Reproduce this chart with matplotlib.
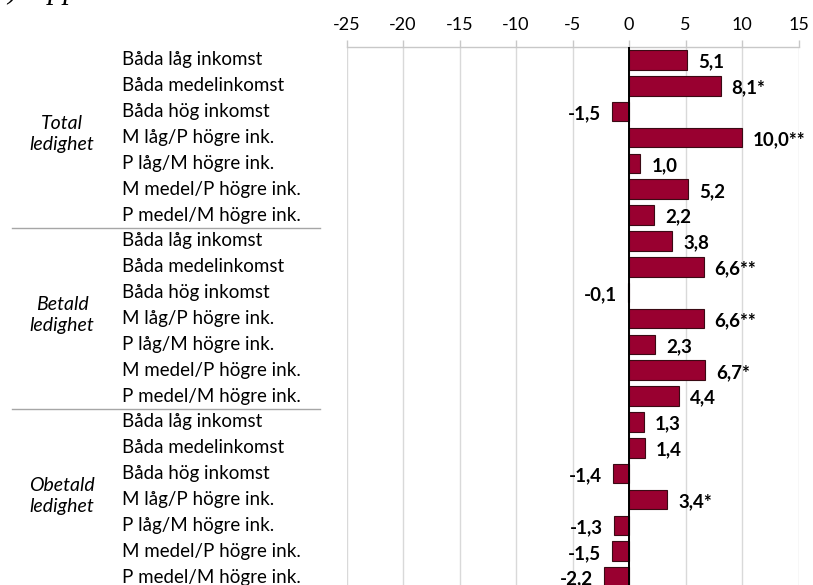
import matplotlib
matplotlib.use("Agg")
import matplotlib.pyplot as plt
from matplotlib.transforms import blended_transform_factory
from matplotlib.lines import Line2D

plt.rcParams['font.family'] = ['Lato', 'DejaVu Sans']
plt.rcParams['axes.unicode_minus'] = False

# data
groups = ['Total\nledighet', 'Betald\nledighet', 'Obetald\nledighet']
categories = ['Båda låg inkomst', 'Båda medelinkomst', 'Båda hög inkomst',
              'M låg/P högre ink.', 'P låg/M högre ink.',
              'M medel/P högre ink.', 'P medel/M högre ink.']
values = [
    [5.1, 8.1, -1.5, 10.0, 1.0, 5.2, 2.2],
    [3.8, 6.6, -0.1, 6.6, 2.3, 6.7, 4.4],
    [1.3, 1.4, -1.4, 3.4, -1.3, -1.5, -2.2],
]
stars = [
    ['', '*', '', '**', '', '', ''],
    ['', '**', '', '**', '', '*', ''],
    ['', '', '', '*', '', '', ''],
]
xticks = [-25, -20, -15, -10, -5, 0, 5, 10, 15]

W, H = 813, 585
fig = plt.figure(figsize=(W / 100, H / 100), dpi=100)
# axes bottom extends below the figure edge (chart is cropped)
ax = fig.add_axes([346.5 / W, -5 / H, 452 / W, 543 / H])

bar_col = '#990030'
n_cat = len(categories)
ypos, vals, labs = [], [], []
for g in range(len(groups)):
    for c in range(n_cat):
        ypos.append(g * n_cat + c)
        vals.append(values[g][c])
        labs.append(f"{values[g][c]:.1f}".replace('.', ',') + stars[g][c])

ax.barh(ypos, vals, height=0.76, color=bar_col, edgecolor='#3a0a14', linewidth=0.8, zorder=3)
ax.set_ylim(len(ypos) - 0.5, -0.5)
ax.set_xlim(-25, 15)

for y, v, s in zip(ypos, vals, labs):
    if v >= 0:
        ax.annotate(s, (v, y), xytext=(8, -1.5), textcoords='offset points',
                    ha='left', va='center', fontweight='bold', fontsize=13.5, zorder=4)
    else:
        ax.annotate(s, (v, y), xytext=(-8, -1.5), textcoords='offset points',
                    ha='right', va='center', fontweight='bold', fontsize=13.5, zorder=4)

ax.axvline(0, color='black', lw=1.4, zorder=4)
ax.set_xticks(xticks)
ax.xaxis.tick_top()
ax.tick_params(axis='x', length=5, color='#c8c8c8', width=1, labelsize=13, pad=5)
ax.set_yticks([])
ax.grid(axis='x', color='#d9d9d9', lw=1, zorder=0)
for side in ['left', 'right', 'bottom']:
    ax.spines[side].set_visible(False)
ax.spines['top'].set_color('#c8c8c8')
ax.spines['top'].set_linewidth(1)

# left labels
tr = blended_transform_factory(fig.transFigure, ax.transData)
for y, g in zip(ypos, range(len(ypos))):
    ax.text(122 / W, y, categories[g % n_cat], transform=tr, ha='left', va='center',
            fontsize=13.5, clip_on=False)
for g, name in enumerate(groups):
    ax.text(62 / W, g * n_cat + 2.85, name, transform=tr, ha='center', va='center',
            fontsize=14, style='italic', linespacing=1.3, clip_on=False)
for g in range(1, len(groups)):
    fig.add_artist(Line2D([12 / W, 320 / W], [g * n_cat - 0.5] * 2, transform=tr,
                          color='#a6a6a6', lw=1))

# cropped title fragment at the very top (only descenders visible)
fig.text(-7 / W, 1 + 2 / H, 'b) Uppdelat', family='Liberation Serif',
         style='italic', fontsize=22, va='baseline', ha='left')

fig.savefig('out.png', dpi=100)
